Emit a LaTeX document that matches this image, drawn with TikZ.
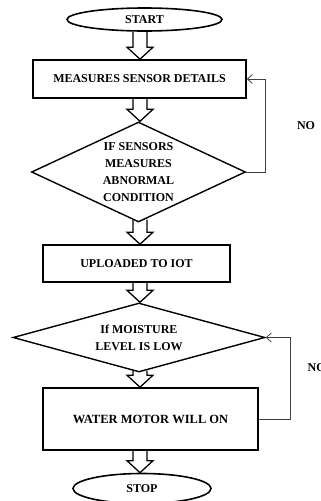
\documentclass[tikz,border=0pt]{standalone}
\usepackage{fontspec}
\setmainfont{Liberation Serif}
\usetikzlibrary{shapes.geometric,arrows.meta,calc}
\tikzset{
  lbl/.style={font=\fontsize{12}{17}\selectfont\bfseries, align=center, text=black},
  terminal/.style={ellipse, draw=black, line width=1.6pt, inner sep=0pt, lbl},
  procbox/.style={rectangle, draw=black, line width=1.6pt, inner sep=0pt, lbl},
  decision/.style={diamond, draw=black, line width=1.4pt, inner sep=0pt, lbl},
  blockarrow/.style={draw=black, line width=1.3pt, line join=miter},
  fb/.style={draw=black!75, line width=0.8pt, -{Straight Barb[length=5pt,width=9pt]}},
  nolbl/.style={font=\fontsize{12}{14}\selectfont\bfseries, text=black, inner sep=0pt}
}
\newcommand\blockarr[2]{%
  \draw[blockarrow] let \p1=(#1), \p2=(#2) in
    ({\x1-7pt},{\y1}) -- ({\x1-7pt},{\y2+12pt}) -- ({\x1-13pt},{\y2+12pt}) --
    ({\x1},{\y2}) -- ({\x1+13pt},{\y2+12pt}) -- ({\x1+7pt},{\y2+12pt}) -- ({\x1+7pt},{\y1});}
\begin{document}
\begin{tikzpicture}[x=1pt,y=-1pt]
\useasboundingbox (0,0) rectangle (321,501);
\coordinate (axis) at (140,0);
\coordinate (r1) at (265,0);
\coordinate (r2) at (290,0);

\node[terminal, minimum width=155pt, minimum height=23pt] (start) at (144.5,19.5) {START};
\node[procbox, minimum width=213pt, minimum height=38pt] (b1) at (139.5,79) {MEASURES SENSOR DETAILS};
\node[decision, aspect=2.14, minimum width=214pt, minimum height=100pt] (d1) at (138.5,172) {IF SENSORS\\MEASURES\\ABNORMAL\\CONDITION};
\node[procbox, minimum width=187pt, minimum height=37pt] (b2) at (136.5,263.5) {UPLOADED TO IOT};
\node[decision, aspect=3.65, minimum width=252pt, minimum height=69pt] (d2) at (139,337.5) {If MOISTURE\\LEVEL IS LOW};
\node[procbox, minimum width=215pt, minimum height=62pt, font=\fontsize{12.5}{17}\selectfont\bfseries] (b3) at (150.5,419) {WATER MOTOR WILL ON};
\node[terminal, minimum width=138pt, minimum height=30pt] (stop) at (142,488.5) {STOP};

\blockarr{start.south -| axis}{b1.north -| axis}
\blockarr{b1.south -| axis}{d1.north -| axis}
\blockarr{[yshift=3pt]d1.south -| axis}{b2.north -| axis}
\blockarr{b2.south -| axis}{d2.north -| axis}
\blockarr{[yshift=2pt]d2.south -| axis}{b3.north -| axis}
\blockarr{b3.south -| axis}{stop.north -| axis}

\draw[fb] (d1.east) -- (d1.east -| r1) |- (b1.east);
\draw[fb] (b3.east) -- (b3.east -| r2) |- (d2.east);

\node[nolbl] (no1) at (306,126) {NO};
\node[nolbl, anchor=west] (no2) at (307.5,368) {NO};
\end{tikzpicture}
\end{document}
